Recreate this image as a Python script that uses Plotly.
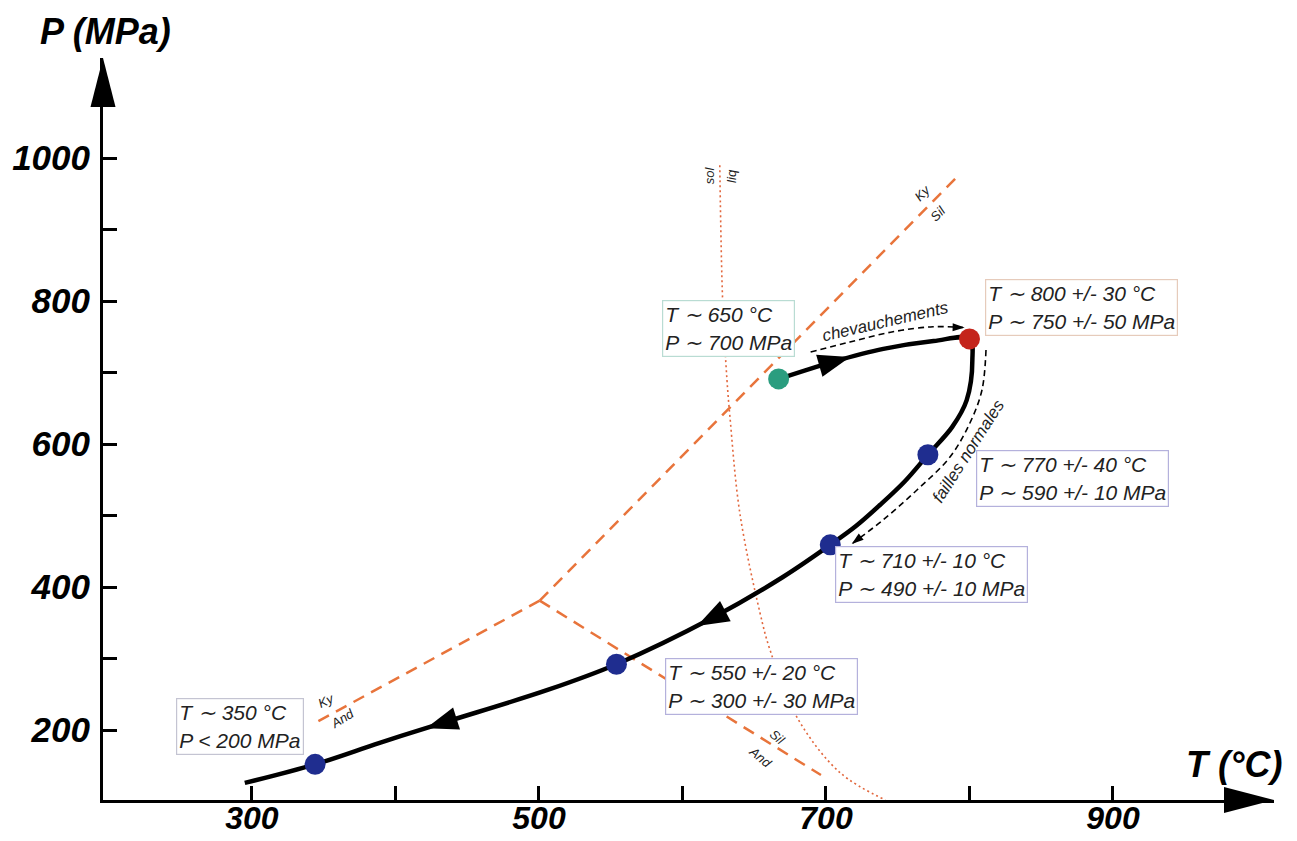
import numpy as np
import plotly.graph_objects as go

# ---------------- data ----------------
# P-T path (T in °C, P in MPa), in order of travel
path_T = [667, 705, 740, 775, 800, 802, 798, 788, 771, 755, 737.6, 720.9, 703, 670, 621, 554, 506, 433, 389, 344, 295]
path_P = [691, 715, 733, 744, 747, 717, 661, 624, 585, 548, 514.7, 485.3, 459, 414, 357, 292, 256, 210, 182, 152, 126]
arrow_idx = [1, 14, 17]

# estimated P-T points
pt_T = [667, 800, 771, 703, 554, 344]
pt_P = [691, 747, 585, 459, 292, 152]
pt_color = ["#2a9d7f", "#c4241b", "#1f2d8f", "#1f2d8f", "#1f2d8f", "#1f2d8f"]

# labels of the estimates
box_text = ["T ∼ 650 °C<br>P ∼ 700 MPa",
            "T ∼ 800 +/- 30 °C<br>P ∼ 750 +/- 50 MPa",
            "T ∼ 770 +/- 40 °C<br>P ∼ 590 +/- 10 MPa",
            "T ∼ 710 +/- 10 °C<br>P ∼ 490 +/- 10 MPa",
            "T ∼ 550 +/- 20 °C<br>P ∼ 300 +/- 30 MPa",
            "T ∼ 350 °C<br>P < 200 MPa"]
box_T = [632.4, 878.4, 872.1, 773.5, 655.4, 291.6]
box_P = [761.5, 790.9, 551.7, 417.5, 260.8, 205.6]
box_border = ["#b9dcd3", "#e6cbbb", "#b4b1dc", "#b4b1dc", "#b4b1dc", "#c4c4d2"]

# dashed tectonic arrows
chev_T = [689.3, 716.7, 746.7, 774.6, 795.5]
chev_P = [728.7, 742.7, 757.0, 764.0, 763.0]
fail_T = [811.5, 808.7, 800.3, 786.4, 763.4, 739.7, 718.8]
fail_P = [731.5, 675.5, 629.4, 581.8, 535.7, 493.7, 461.5]

# Al2SiO5 reactions: triple point and end points
triple_T, triple_P = 500.5, 381
kysil_T, kysil_P = 790, 971
kyand_T, kyand_P = 345, 211
siland_T, siland_P = 696.5, 137

# solidus / liquidus
sol_T = [626, 628, 631, 633, 640, 654, 661, 680, 710, 741.5]
sol_P = [990, 800, 690, 640, 503, 364, 312, 217, 140, 102]

# axes
x_ticks = [300, 500, 700, 900]
x_minor = [400, 600, 800]
y_ticks = [200, 400, 600, 800, 1000]
y_minor = [300, 500, 700, 900]

# ---------------- layout geometry ----------------
OFF = 8                      # page body margin of the html page
W, H = 1289, 833
ML, MR, MT, MB = 95, 23, 50, 41
T0, T1 = 196.2, 1012.2
P0, P1 = 102.1, 1139.9
kx = (W - ML - MR) / (T1 - T0)
ky = (H - MT - MB) / (P1 - P0)

FONT = "Liberation Sans, Arial, sans-serif"
ORANGE = "#e8743b"

fig = go.Figure()

# solidus/liquidus dotted
fig.add_trace(go.Scatter(x=sol_T, y=sol_P, mode="lines", line=dict(color="#e2673d", width=1.6, dash="2px,3px", shape="spline"),
                         hoverinfo="skip", showlegend=False))
# Al2SiO5 dashed lines
for (tx, py) in [(kysil_T, kysil_P), (kyand_T, kyand_P), (siland_T, siland_P)]:
    fig.add_trace(go.Scatter(x=[triple_T, tx], y=[triple_P, py], mode="lines",
                             line=dict(color=ORANGE, width=2.5, dash="12px,8px"),
                             hoverinfo="skip", showlegend=False))

# dashed tectonic arrows
for xs, ys in [(chev_T, chev_P), (fail_T, fail_P)]:
    fig.add_trace(go.Scatter(x=xs, y=ys, mode="lines", line=dict(color="black", width=1.6, dash="6px,4px", shape="spline"),
                             hoverinfo="skip", showlegend=False))

# main path
fig.add_trace(go.Scatter(x=path_T, y=path_P, mode="lines", line=dict(color="black", width=4.5, shape="spline", smoothing=1.0),
                         hoverinfo="skip", showlegend=False))

# points
fig.add_trace(go.Scatter(x=pt_T, y=pt_P, mode="markers", marker=dict(size=21, color=pt_color, line=dict(width=0)),
                         cliponaxis=False, hoverinfo="skip", showlegend=False))

shapes = []


def head(T, P, dT, dP, L, Wd, color):
    dx, dy = dT * kx, dP * ky
    n = np.hypot(dx, dy)
    ux, uy = dx / n, dy / n
    nx, ny = -uy, ux
    tip = (ux * L * 0.55, uy * L * 0.55)
    bx, by = -ux * L * 0.45, -uy * L * 0.45
    a = (bx + nx * Wd / 2, by + ny * Wd / 2)
    b = (bx - nx * Wd / 2, by - ny * Wd / 2)
    path = f"M{tip[0]:.2f},{tip[1]:.2f} L{a[0]:.2f},{a[1]:.2f} L{b[0]:.2f},{b[1]:.2f} Z"
    return dict(type="path", xref="x", yref="y", xsizemode="pixel", ysizemode="pixel",
                xanchor=T, yanchor=P, path=path, fillcolor=color, line=dict(width=0), layer="above")


for i in arrow_idx:
    shapes.append(head(path_T[i], path_P[i], path_T[i + 1] - path_T[i - 1], path_P[i + 1] - path_P[i - 1], 32, 23, "black"))

# dashed-arrow heads (at final point)
for xs, ys in [(chev_T, chev_P), (fail_T, fail_P)]:
    dT, dP = xs[-1] - xs[-2], ys[-1] - ys[-2]
    n = np.hypot(dT * kx, dP * ky)
    back = 5.0 / n
    shapes.append(head(xs[-1] - dT * back, ys[-1] - dP * back, dT, dP, 12, 8, "black"))

# axis arrows (paper anchored so they are not clipped)
shapes.append(dict(type="path", xref="paper", yref="paper", xsizemode="pixel", ysizemode="pixel",
                   xanchor=1, yanchor=0, path="M0,0 L-50,13 L-50,-13 Z", fillcolor="black", line=dict(width=0)))
shapes.append(dict(type="path", xref="paper", yref="paper", xsizemode="pixel", ysizemode="pixel",
                   xanchor=0, yanchor=1, path="M0,0 L-12.5,-49 L12.5,-49 Z", fillcolor="black", line=dict(width=0)))

annotations = []
for t, x, y, bc in zip(box_text, box_T, box_P, box_border):
    annotations.append(dict(x=x, y=y, xref="x", yref="y", text=t, showarrow=False, align="left",
                            xanchor="center", yanchor="middle",
                            font=dict(family=FONT, size=21, color="#222", style="italic"),
                            bgcolor="white", bordercolor=bc, borderwidth=1.2, borderpad=2))

small = dict(family=FONT, size=13, color="#222", style="italic")
label_items = [
    ("sol", 618.5, 976, -90), ("liq", 634.5, 975, -90),
    ("Ky", 767.6, 952, -45), ("Sil", 778.0, 923, -45),
    ("Ky", 352, 241, -25), ("And", 363, 216, -32),
    ("Sil", 666.5, 190, 40), ("And", 654.7, 162, 40),
]
for t, x, y, a in label_items:
    annotations.append(dict(x=x, y=y, xref="x", yref="y", text=t, showarrow=False, textangle=a, font=small))

annotations.append(dict(x=741.8, y=771, xref="x", yref="y", text="chevauchements", showarrow=False, textangle=-13,
                        font=dict(family=FONT, size=17, color="#222", style="italic")))
annotations.append(dict(x=799, y=590, xref="x", yref="y", text="failles normales", showarrow=False, textangle=-57.5,
                        font=dict(family=FONT, size=17, color="#222", style="italic")))

axis_title_font = dict(family=FONT, size=36, color="black", weight="bold", style="italic")
annotations.append(dict(x=105, y=32, xref="paper", yref="paper", text="P (MPa)", showarrow=False,
                        xanchor="center", yanchor="middle", font=axis_title_font))
annotations.append(dict(x=1234, y=764, xref="paper", yref="paper", text="T (°C)", showarrow=False,
                        xanchor="center", yanchor="middle", font=axis_title_font))
# convert page-pixel positions of titles to paper fractions
for a in annotations[-2:]:
    a["x"] = (a["x"] - OFF - ML) / (W - ML - MR)
    a["y"] = (H - MB - (a["y"] - OFF)) / (H - MT - MB)

x_tick_font = dict(family=FONT, size=32, color="black", weight="bold", style="italic")
y_tick_font = dict(family=FONT, size=35, color="black", weight="bold", style="italic")

fig.update_layout(
    width=W, height=H, autosize=False,
    margin=dict(l=ML, r=MR, t=MT, b=MB, pad=0, autoexpand=False),
    paper_bgcolor="white", plot_bgcolor="white",
    shapes=shapes, annotations=annotations,
    xaxis=dict(range=[T0, T1], showgrid=False, zeroline=False, showline=True, linecolor="black", linewidth=3,
               automargin=False,
               tickmode="array", tickvals=x_ticks, ticktext=[str(v) for v in x_ticks],
               ticks="inside", ticklen=14, tickwidth=2.5, tickcolor="black", tickfont=x_tick_font,
               ticklabelstandoff=-12,
               minor=dict(tickmode="array", tickvals=x_minor, ticks="inside", ticklen=14, tickwidth=2.5, tickcolor="black")),
    yaxis=dict(range=[P0, P1], showgrid=False, zeroline=False, showline=True, linecolor="black", linewidth=3,
               automargin=False,
               tickmode="array", tickvals=y_ticks, ticktext=[str(v) for v in y_ticks],
               ticks="inside", ticklen=14, tickwidth=2.5, tickcolor="black", tickfont=y_tick_font,
               ticklabelstandoff=3,
               minor=dict(tickmode="array", tickvals=y_minor, ticks="inside", ticklen=14, tickwidth=2.5, tickcolor="black")),
)

fig.write_html("out.html")
